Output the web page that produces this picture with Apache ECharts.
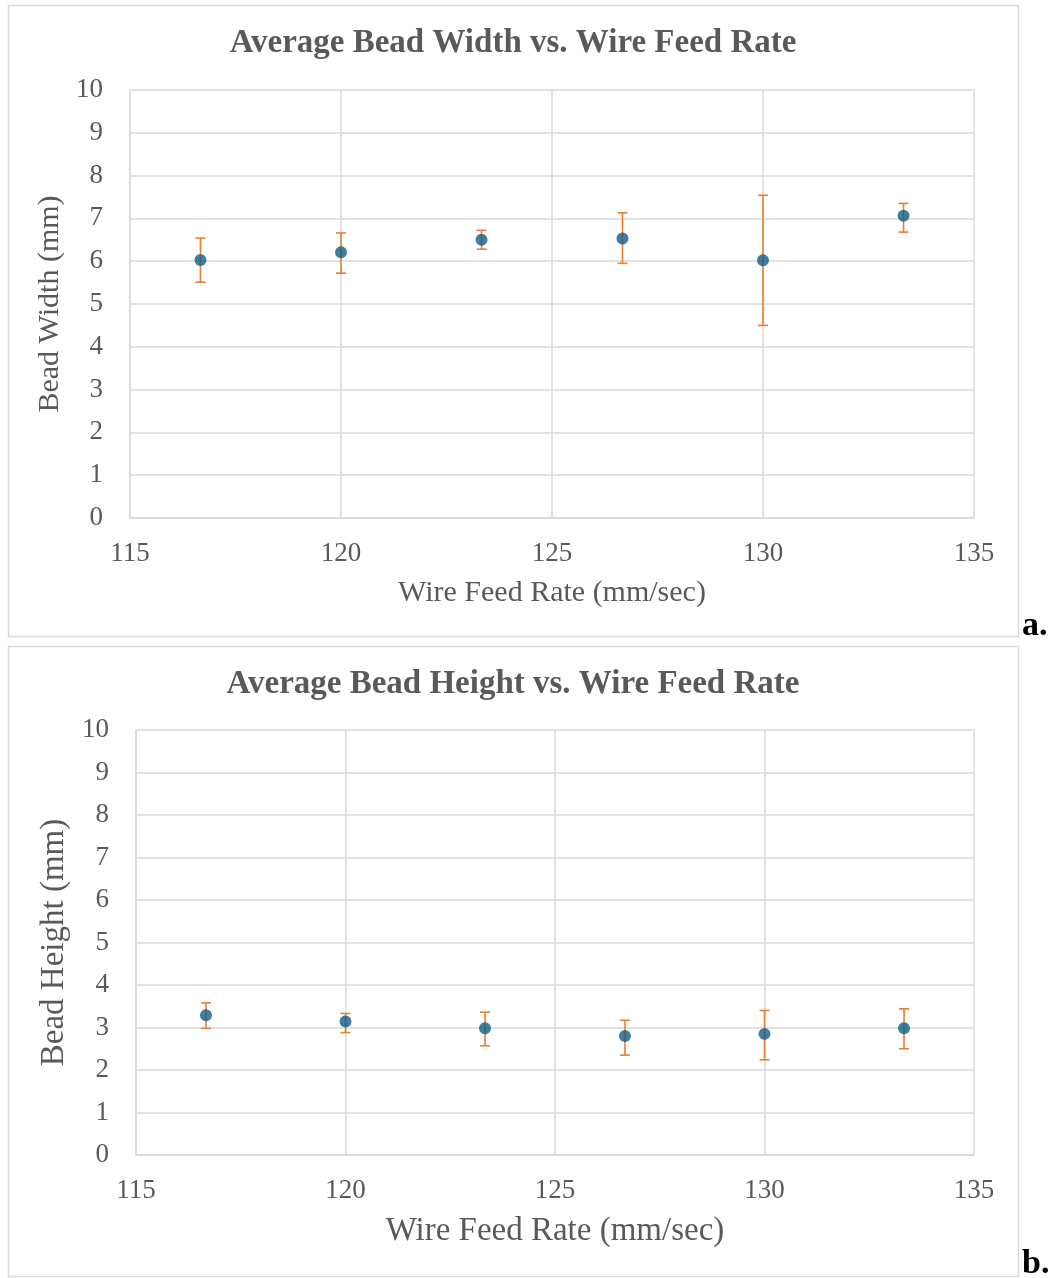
<!DOCTYPE html>
<html>
<head>
<meta charset="utf-8">
<script src="https://cdn.jsdelivr.net/npm/echarts@6/dist/echarts.min.js"></script>
<style>
html,body{margin:0;padding:0;background:#fff;}
#c{width:1054px;height:1278px;}
</style>
</head>
<body>
<div id="c"></div>
<script>
const feedRate = [116.67, 120, 123.33, 126.67, 130, 133.33];
const widthMean = [6.03, 6.21, 6.50, 6.53, 6.02, 7.06];
const widthLow  = [5.51, 5.72, 6.28, 5.95, 4.50, 6.68];
const widthHigh = [6.54, 6.66, 6.72, 7.13, 7.54, 7.35];
const heightMean = [3.29, 3.14, 2.98, 2.80, 2.85, 2.98];
const heightLow  = [2.98, 2.88, 2.57, 2.35, 2.24, 2.50];
const heightHigh = [3.58, 3.33, 3.36, 3.17, 3.40, 3.44];

const FONT = "'Liberation Serif','Times New Roman',serif";
const GRAY = '#595959';
const GRID = '#d9d9d9';

function errRender(params, api) {
  const x = api.value(0), lo = api.value(1), hi = api.value(2);
  const p1 = api.coord([x, hi]), p2 = api.coord([x, lo]);
  const w = 5;
  const st = {stroke: '#ed7d31', lineWidth: 1.6};
  return {type: 'group', children: [
    {type: 'line', shape: {x1: p1[0], y1: p1[1], x2: p2[0], y2: p2[1]}, style: st},
    {type: 'line', shape: {x1: p1[0]-w, y1: p1[1], x2: p1[0]+w, y2: p1[1]}, style: st},
    {type: 'line', shape: {x1: p2[0]-w, y1: p2[1], x2: p2[0]+w, y2: p2[1]}, style: st}
  ]};
}

function xAxis(idx, nameSize, nameGap) {
  return {
    type: 'value', gridIndex: idx, min: 115, max: 135, interval: 5,
    name: 'Wire Feed Rate (mm/sec)', nameLocation: 'middle', nameGap: nameGap,
    nameTextStyle: {fontFamily: FONT, fontSize: nameSize, color: GRAY},
    axisLine: {show: true, lineStyle: {color: GRID, width: 1.5}},
    axisTick: {show: false},
    axisLabel: {fontFamily: FONT, fontSize: 27, color: GRAY, margin: 22},
    splitLine: {show: true, lineStyle: {color: GRID, width: 1.5}}
  };
}
function yAxis(idx, name, nameSize, nameGap) {
  return {
    type: 'value', gridIndex: idx, min: 0, max: 10, interval: 1,
    name: name, nameLocation: 'middle', nameGap: nameGap, nameRotate: 90,
    nameTextStyle: {fontFamily: FONT, fontSize: nameSize, color: GRAY},
    axisLine: {show: true, lineStyle: {color: GRID, width: 1.5}},
    axisTick: {show: false},
    axisLabel: {fontFamily: FONT, fontSize: 27, color: GRAY, margin: 27},
    splitLine: {show: true, lineStyle: {color: GRID, width: 1.5}}
  };
}

const chart = echarts.init(document.getElementById('c'));
chart.setOption({
  backgroundColor: '#fff',
  animation: false,
  title: [
    {text: 'Average Bead Width vs. Wire Feed Rate', left: 508, textAlign: 'center', top: 22,
     textStyle: {fontFamily: FONT, fontSize: 33, fontWeight: 'bold', color: GRAY}},
    {text: 'Average Bead Height vs. Wire Feed Rate', left: 508, textAlign: 'center', top: 663,
     textStyle: {fontFamily: FONT, fontSize: 33, fontWeight: 'bold', color: GRAY}}
  ],
  graphic: [
    {type: 'rect', shape: {x: 8.5, y: 5.5, width: 1010, height: 631}, style: {fill: 'none', stroke: GRID, lineWidth: 1.5}, z: -1},
    {type: 'rect', shape: {x: 8.5, y: 646.5, width: 1010, height: 630}, style: {fill: 'none', stroke: GRID, lineWidth: 1.5}, z: -1},
    {type: 'text', left: 1022, top: 609, style: {text: 'a.', font: "bold 34px 'Liberation Serif', serif", fill: '#000'}},
    {type: 'text', left: 1022, top: 1247, style: {text: 'b.', font: "bold 34px 'Liberation Serif', serif", fill: '#000'}}
  ],
  grid: [
    {left: 130, right: 80, top: 90, height: 428},
    {left: 136, right: 80, top: 730, height: 425}
  ],
  xAxis: [xAxis(0, 30, 60), xAxis(1, 33, 60)],
  yAxis: [yAxis(0, 'Bead Width (mm)', 30, 63), yAxis(1, 'Bead Height (mm)', 33, 65)],
  series: [
    {type: 'custom', xAxisIndex: 0, yAxisIndex: 0, renderItem: errRender, z: 2,
     encode: {x: 0, y: [1, 2]},
     data: feedRate.map((x, i) => [x, widthLow[i], widthHigh[i]])},
    {type: 'scatter', xAxisIndex: 0, yAxisIndex: 0, symbolSize: 12, z: 3,
     itemStyle: {color: '#125c84'},
     data: feedRate.map((x, i) => [x, widthMean[i]])},
    {type: 'custom', xAxisIndex: 1, yAxisIndex: 1, renderItem: errRender, z: 2,
     encode: {x: 0, y: [1, 2]},
     data: feedRate.map((x, i) => [x, heightLow[i], heightHigh[i]])},
    {type: 'scatter', xAxisIndex: 1, yAxisIndex: 1, symbolSize: 12, z: 3,
     itemStyle: {color: '#125c84'},
     data: feedRate.map((x, i) => [x, heightMean[i]])}
  ]
});
</script>
</body>
</html>
